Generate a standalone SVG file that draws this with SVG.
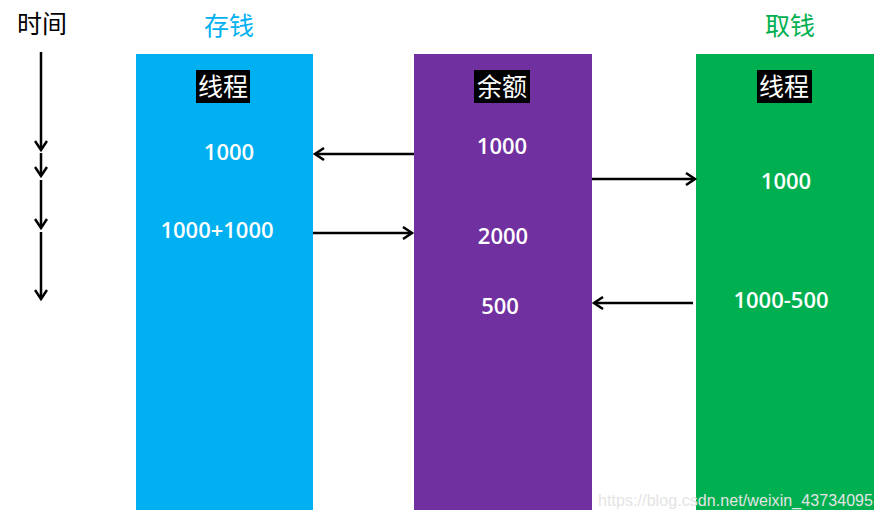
<svg xmlns="http://www.w3.org/2000/svg" width="882" height="520" viewBox="0 0 882 520">
<style>
.cjk{font-family:"Noto Sans CJK SC",sans-serif;font-size:25px}
.num{font-family:"Open Sans","Liberation Sans",sans-serif;font-size:22px;font-weight:600;fill:#fff;text-anchor:middle}
.ln{stroke:#000;stroke-width:2.5;fill:none}
</style>
<defs>
<marker id="ah" markerWidth="14" markerHeight="14" refX="11" refY="7" orient="auto" markerUnits="userSpaceOnUse">
<path d="M2,1 L11,7 L2,13" fill="none" stroke="#000" stroke-width="2.5"/>
</marker>
</defs>
<rect width="882" height="520" fill="#fff"/>
<g id="time">
<text class="cjk" x="42" y="33" text-anchor="middle" fill="#000">时间</text>
<g class="ln">
<line x1="41" y1="52" x2="41" y2="150" marker-end="url(#ah)"/>
<line x1="41" y1="153" x2="41" y2="176" marker-end="url(#ah)"/>
<line x1="41" y1="180" x2="41" y2="228" marker-end="url(#ah)"/>
<line x1="41" y1="232" x2="41" y2="299" marker-end="url(#ah)"/>
</g>
</g>
<g id="deposit">
<text class="cjk" x="229" y="35" text-anchor="middle" fill="#00b0f0">存钱</text>
<rect x="136" y="54" width="177" height="456" fill="#00b0f0"/>
<rect x="196" y="70" width="54" height="33" fill="#000"/>
<text class="cjk" x="223" y="96" text-anchor="middle" fill="#fff">线程</text>
<text class="num" x="229" y="160">1000</text>
<text class="num" x="217" y="238">1000+1000</text>
</g>
<g id="balance">
<rect x="414" y="54" width="178" height="456" fill="#7030a0"/>
<rect x="474" y="70" width="56" height="33" fill="#000"/>
<text class="cjk" x="502" y="96" text-anchor="middle" fill="#fff">余额</text>
<text class="num" x="502" y="154">1000</text>
<text class="num" x="503" y="244">2000</text>
<text class="num" x="500" y="314">500</text>
</g>
<g id="withdraw">
<text class="cjk" x="790" y="35" text-anchor="middle" fill="#00b050">取钱</text>
<rect x="696" y="54" width="178" height="456" fill="#00b050"/>
<rect x="757" y="70" width="55" height="33" fill="#000"/>
<text class="cjk" x="784" y="96" text-anchor="middle" fill="#fff">线程</text>
<text class="num" x="786" y="189">1000</text>
<text class="num" x="781" y="308">1000-500</text>
</g>
<g id="connectors" class="ln">
<line x1="414" y1="154" x2="315" y2="154" marker-end="url(#ah)"/>
<line x1="592" y1="179" x2="695" y2="179" marker-end="url(#ah)"/>
<line x1="313" y1="233" x2="412" y2="233" marker-end="url(#ah)"/>
<line x1="693" y1="303" x2="594" y2="303" marker-end="url(#ah)"/>
</g>
<text x="598" y="506" font-family="Liberation Sans,sans-serif" font-size="16" fill="#e4e4e4" textLength="275">https://blog.csdn.net/weixin_43734095</text>
</svg>
